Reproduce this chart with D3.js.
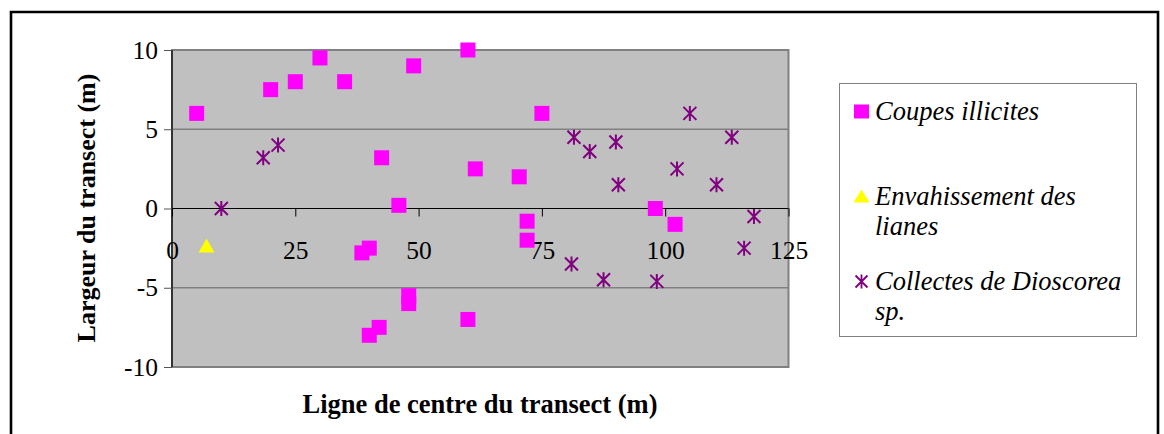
<!DOCTYPE html>
<html><head><meta charset="utf-8">
<script src="https://cdn.jsdelivr.net/npm/d3@7"></script>
<style>body{margin:0;background:#fff}svg{display:block}
svg text{font-family:"Liberation Serif","Times New Roman",Times,"DejaVu Serif",serif;}</style>
</head><body>
<svg id="c" width="1164" height="434"></svg>
<script>
const xTicks = [0, 25, 50, 75, 100, 125];
const yTicks = [-10, -5, 0, 5, 10];
const coupesX = [5, 20, 25, 30, 35, 49, 60, 42.5, 46, 61.5, 70.4, 75, 98, 102, 72, 72, 38.5, 40, 48, 48, 60, 40, 42];
const coupesY = [6, 7.5, 8, 9.5, 8, 9, 10, 3.2, 0.2, 2.5, 2, 6, 0, -1, -0.8, -2, -2.8, -2.5, -5.5, -6, -7, -8, -7.5];
const lianesX = [7];
const lianesY = [-2.4];
const dioscX = [10, 18.5, 21.5, 81.5, 84.7, 90, 90.5, 105, 102.4, 110.4, 113.5, 118, 116, 81, 87.5, 98.3];
const dioscY = [0, 3.2, 4, 4.5, 3.6, 4.2, 1.5, 6, 2.5, 1.5, 4.5, -0.5, -2.5, -3.5, -4.5, -4.6];
const seriesNames = ["Coupes illicites", "Envahissement des|lianes", "Collectes de Dioscorea|sp."];

const svg = d3.select("#c");
const L = 172, R = 788.5, T = 50, B = 367;
const x = d3.scaleLinear().domain([0, 125]).range([L, R]);
const y = d3.scaleLinear().domain([-10, 10]).range([B, T]);

// outer frame (no bottom edge visible)
svg.append("path").attr("d", `M11,440 L11,12 L1158,12 L1158,440`)
  .attr("fill", "none").attr("stroke", "#000").attr("stroke-width", 2.6);

// plot area
svg.append("rect").attr("x", L).attr("y", T).attr("width", R - L).attr("height", B - T)
  .attr("fill", "#c0c0c0").attr("stroke", "#808080").attr("stroke-width", 2);

// gridlines
svg.append("g").selectAll("line").data(yTicks.filter(d => d !== 0 && d !== -10 && d !== 10)).join("line")
  .attr("x1", L).attr("x2", R).attr("y1", d => y(d)).attr("y2", d => y(d))
  .attr("stroke", "#808080").attr("stroke-width", 1.5);

// y axis
const yAxis = d3.axisLeft(y).tickValues(yTicks).tickSize(8).tickPadding(6).tickFormat(d => String(d));
const gy = svg.append("g").attr("transform", `translate(${L},0)`).call(yAxis);
gy.attr("font-family", null);
gy.select(".domain").attr("stroke", "#000").attr("stroke-width", 1.2).attr("d", `M0,${T}V${B}`);
gy.selectAll(".tick line").attr("stroke", "#555");
gy.selectAll("text").attr("font-size", 25.5).attr("fill", "#000");

// x axis at y=0
const xAxis = d3.axisBottom(x).tickValues(xTicks).tickSize(8).tickFormat(d => String(d));
const gx = svg.append("g").attr("transform", `translate(0,${y(0)})`).call(xAxis);
gx.attr("font-family", null);
gx.select(".domain").attr("stroke", "#000").attr("stroke-width", 1.2).attr("d", `M${L},0H${R}`);
gx.selectAll(".tick line").attr("stroke", "#000");
gx.selectAll("text").attr("font-size", 25.5).attr("fill", "#000")
  .attr("dy", null).attr("y", 50);

// series
const coupes = coupesX.map((v, i) => [v, coupesY[i]]);
const lianes = lianesX.map((v, i) => [v, lianesY[i]]);
const diosc = dioscX.map((v, i) => [v, dioscY[i]]);

svg.append("g").selectAll("rect").data(coupes).join("rect")
  .attr("x", d => x(d[0]) - 7.5).attr("y", d => y(d[1]) - 7.5)
  .attr("width", 15).attr("height", 15).attr("fill", "#ff00ff");

svg.append("g").selectAll("path").data(lianes).join("path")
  .attr("d", d => `M${x(d[0])},${y(d[1]) - 8} L${x(d[0]) + 8},${y(d[1]) + 6} L${x(d[0]) - 8},${y(d[1]) + 6}Z`)
  .attr("fill", "#ffff00");

const star = (cx, cy, s) => `M${cx - s},${cy - s}L${cx + s},${cy + s}M${cx - s},${cy + s}L${cx + s},${cy - s}M${cx},${cy - s - 1}L${cx},${cy + s + 1}`;
svg.append("g").selectAll("path").data(diosc).join("path")
  .attr("d", d => star(x(d[0]), y(d[1]), 6.5))
  .attr("fill", "none").attr("stroke", "#800080").attr("stroke-width", 2);

// axis titles
svg.append("text").attr("x", 480).attr("y", 413).attr("text-anchor", "middle")
  .attr("font-weight", "bold").attr("font-size", 26.5)
  .text("Ligne de centre du transect (m)");
svg.append("text").attr("transform", "translate(95,208) rotate(-90)").attr("text-anchor", "middle")
  .attr("font-weight", "bold").attr("font-size", 26)
  .text("Largeur du transect (m)");

// legend
const lg = svg.append("g");
lg.append("rect").attr("x", 839.5).attr("y", 83.5).attr("width", 297).attr("height", 253)
  .attr("fill", "#fff").attr("stroke", "#808080").attr("stroke-width", 1);
const rowsY = [120, 205, 290];
seriesNames.forEach((name, i) => {
  const ty = rowsY[i];
  const lines = name.split("|");
  const t = lg.append("text").attr("font-style", "italic").attr("font-size", 26.5);
  lines.forEach((ln, j) => t.append("tspan").attr("x", 875).attr("y", ty + j * 30).text(ln));
  const mx = 861.5, my = ty - 8.5;
  if (i === 0) lg.append("rect").attr("x", mx - 7.5).attr("y", my - 7).attr("width", 15).attr("height", 14).attr("fill", "#ff00ff");
  if (i === 1) lg.append("path").attr("d", `M${mx},${my - 7}L${mx + 8},${my + 6}L${mx - 8},${my + 6}Z`).attr("fill", "#ffff00");
  if (i === 2) lg.append("path").attr("d", star(mx, my, 6)).attr("fill", "none").attr("stroke", "#800080").attr("stroke-width", 1.8);
});
</script>
</body></html>
